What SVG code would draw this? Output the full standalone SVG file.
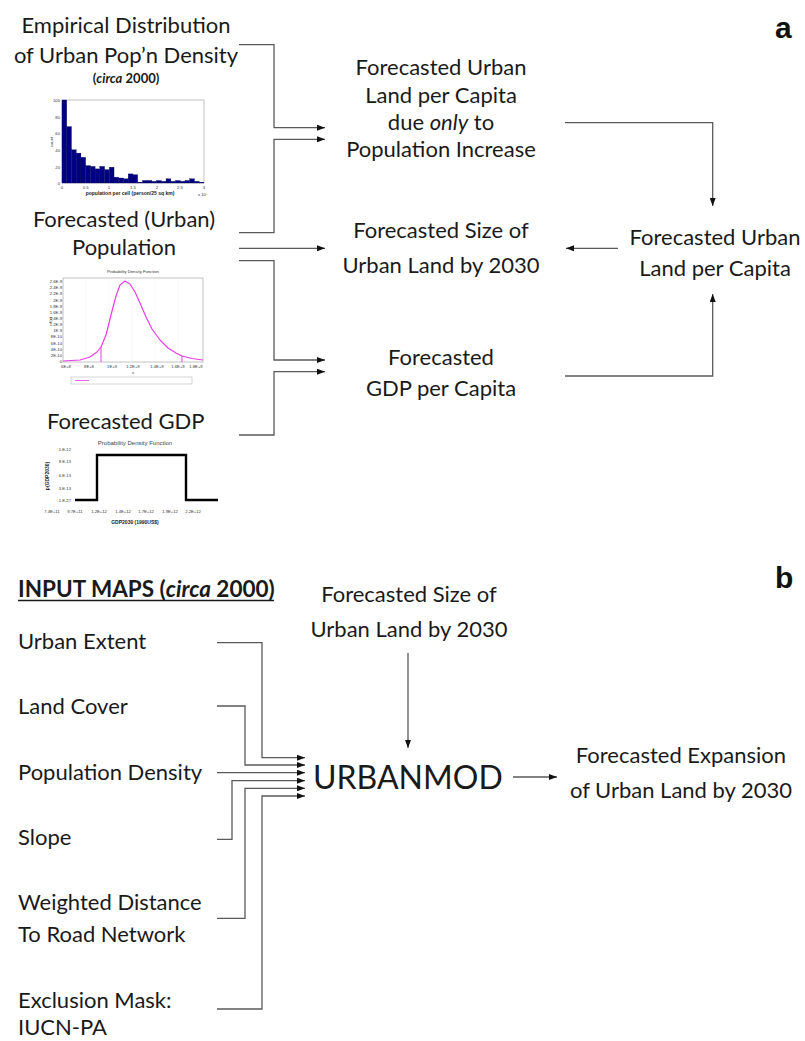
<svg xmlns="http://www.w3.org/2000/svg" width="805" height="1041" viewBox="0 0 805 1041">
<defs>
<marker id="ah" markerUnits="userSpaceOnUse" markerWidth="8" markerHeight="6" refX="8" refY="3" orient="auto">
<path d="M0,0 L8,3 L0,6 z" fill="#111"/>
</marker>
<style>
.t{font-family:Lato,"Liberation Sans",sans-serif;font-size:22px;fill:#1a1a1a}
.c{text-anchor:middle}
.lbl{font-family:"Liberation Sans",Arial,sans-serif;font-weight:bold;font-size:30px;fill:#111}
.ax{font-family:"Liberation Sans",Arial,sans-serif;font-size:4.2px;fill:#333}
.axb{font-family:"Liberation Sans",Arial,sans-serif;font-size:5px;font-weight:bold;fill:#222}
.conn path{fill:none;stroke:#5a5a5a;stroke-width:1.3}
.frame{fill:none;stroke:#999;stroke-width:0.6}
</style>
</defs>
<rect width="805" height="1041" fill="#fff"/>

<text class="lbl" x="775" y="38">a</text>
<text class="lbl" x="775" y="588">b</text>

<g id="empirical">
<text class="t c" x="126" y="33">Empirical Distribution</text>
<text class="t c" x="126" y="63">of Urban Pop’n Density</text>
<text class="c" x="126" y="83" style="font-family:Lato,'Liberation Sans',sans-serif;font-size:13px;font-weight:bold;fill:#1a1a1a">(<tspan font-style="italic">circa</tspan> 2000)</text>
<g id="histogram">
<rect class="frame" x="62" y="100" width="142" height="83"/>
<g fill="#000080" stroke="#000050" stroke-width="0.3">
<rect x="62" y="100" width="4.73" height="83"/>
<rect x="66.73" y="126.6" width="4.73" height="56.4"/>
<rect x="71.46" y="149.8" width="4.73" height="33.2"/>
<rect x="76.19" y="153.1" width="4.73" height="29.9"/>
<rect x="80.92" y="157.3" width="4.73" height="25.7"/>
<rect x="85.65" y="165.6" width="4.73" height="17.4"/>
<rect x="90.38" y="166.4" width="4.73" height="16.6"/>
<rect x="95.11" y="168.9" width="4.73" height="14.1"/>
<rect x="99.84" y="166.4" width="4.73" height="16.6"/>
<rect x="104.57" y="169.7" width="4.73" height="13.3"/>
<rect x="109.3" y="167.2" width="4.73" height="15.8"/>
<rect x="114.03" y="177.2" width="4.73" height="5.8"/>
<rect x="118.76" y="178" width="4.73" height="5"/>
<rect x="123.49" y="178.8" width="4.73" height="4.2"/>
<rect x="128.22" y="173.9" width="4.73" height="9.1"/>
<rect x="132.95" y="174.7" width="4.73" height="8.3"/>
<rect x="137.68" y="182.2" width="4.73" height="0.8"/>
<rect x="142.41" y="180.5" width="4.73" height="2.5"/>
<rect x="147.14" y="180.5" width="4.73" height="2.5"/>
<rect x="151.87" y="181.3" width="4.73" height="1.7"/>
<rect x="156.6" y="180.5" width="4.73" height="2.5"/>
<rect x="161.33" y="181.3" width="4.73" height="1.7"/>
<rect x="166.06" y="178.8" width="4.73" height="4.2"/>
<rect x="170.79" y="181.3" width="4.73" height="1.7"/>
<rect x="175.52" y="180.5" width="4.73" height="2.5"/>
<rect x="180.25" y="181.3" width="4.73" height="1.7"/>
<rect x="184.98" y="180.5" width="4.73" height="2.5"/>
<rect x="189.71" y="178.8" width="4.73" height="4.2"/>
<rect x="194.44" y="181.3" width="4.73" height="1.7"/>
<rect x="199.17" y="182.2" width="4.73" height="0.8"/>
</g>
<g class="ax" text-anchor="end">
<text x="60" y="102">100</text><text x="60" y="118.5">80</text><text x="60" y="135">60</text><text x="60" y="152">40</text><text x="60" y="168.5">20</text><text x="60" y="184.5">0</text>
</g>
<g class="ax" text-anchor="middle">
<text x="62" y="189">0</text><text x="85.7" y="189">0.5</text><text x="109" y="189">1</text><text x="133" y="189">1.5</text><text x="157" y="189">2</text><text x="180" y="189">2.5</text><text x="204" y="189">3</text>
</g>
<text class="ax" x="53" y="142" text-anchor="middle" transform="rotate(-90 53 142)">count</text>
<text class="axb" x="130" y="195" text-anchor="middle">population per cell (person/25 sq km)</text>
<text class="ax" x="198" y="196" font-size="3.5">x 10<tspan font-size="2.5" dy="-1.5">4</tspan></text>
</g>
</g>

<g id="population">
<text class="t c" x="124" y="227">Forecasted (Urban)</text>
<text class="t c" x="124" y="255">Population</text>
<g id="pdf-pop">
<text class="ax" x="133" y="273" text-anchor="middle" font-size="5">Probability Density Function</text>
<rect class="frame" x="63" y="278" width="140" height="84"/>
<g stroke="#e6e6e6" stroke-width="0.4">
<path d="M86,278V362M109,278V362M132,278V362M155,278V362M178,278V362"/>
</g>
<g class="ax" text-anchor="end" font-size="3.6">
<text x="62" y="283">2.6E-9</text><text x="62" y="289.2">2.4E-9</text><text x="62" y="295.3">2.2E-9</text><text x="62" y="301.5">2E-9</text><text x="62" y="307.6">1.8E-9</text><text x="62" y="313.8">1.6E-9</text><text x="62" y="319.9">1.4E-9</text><text x="62" y="326.1">1.2E-9</text><text x="62" y="332.2">1E-9</text><text x="62" y="338.4">8E-10</text><text x="62" y="344.5">6E-10</text><text x="62" y="350.7">4E-10</text><text x="62" y="356.8">2E-10</text><text x="62" y="363">0</text>
</g>
<g class="ax" text-anchor="middle" font-size="3.6">
<text x="66" y="368">6E+8</text><text x="89" y="368">8E+8</text><text x="112" y="368">1E+9</text><text x="133" y="368">1.2E+9</text><text x="157" y="368">1.4E+9</text><text x="178" y="368">1.6E+9</text><text x="196" y="368">1.8E+9</text>
</g>
<text class="ax" x="133" y="373.5" text-anchor="middle">x</text>
<text class="ax" x="52" y="320" text-anchor="middle" transform="rotate(-90 52 320)">f(x)</text>
<polyline fill="none" stroke="#e83ee8" stroke-width="1.2" stroke-linejoin="round" points="63,361 80,360 90,357 97,352 101,347 106,335 111,315 116,296 120,285 125,281 130,284 135,292 140,303 146,317 152,329 160,340 168,348 176,353 182,356 192,358.5 203,360"/>
<path d="M101,347V362M182,356V362" stroke="#e83ee8" stroke-width="1"/>
<rect x="71" y="377" width="121" height="7" fill="none" stroke="#aaa" stroke-width="0.5"/>
<path d="M75,380.5H89" stroke="#e83ee8" stroke-width="0.8"/>
</g>
</g>

<g id="gdp">
<text class="t" x="47" y="429">Forecasted GDP</text>
<g id="pdf-gdp">
<text x="135" y="445" text-anchor="middle" style="font-family:'Liberation Sans',Arial,sans-serif;font-size:6px;fill:#444">Probability Density Function</text>
<g class="ax" text-anchor="end" font-size="4.4">
<text x="71" y="451">1.E-12</text><text x="71" y="463">9.E-13</text><text x="71" y="477">6.E-13</text><text x="71" y="490">3.E-13</text><text x="71" y="502">-1.E-27</text>
</g>
<path d="M75,500H97V455H186V500H218" fill="none" stroke="#000" stroke-width="2.4"/>
<g class="ax" text-anchor="middle" font-size="4.2">
<text x="52" y="513">7.4E+11</text><text x="75" y="513">9.7E+11</text><text x="99" y="513">1.2E+12</text><text x="123" y="513">1.4E+12</text><text x="146" y="513">1.7E+12</text><text x="170" y="513">1.9E+12</text><text x="193" y="513">2.2E+12</text>
</g>
<text class="axb" x="49" y="476" text-anchor="middle" font-size="5.5" transform="rotate(-90 49 476)">p(GDP2030)</text>
<text class="axb" x="135" y="524" text-anchor="middle" font-size="5.5">GDP2030 (1990US$)</text>
</g>
</g>

<g id="land-per-capita-pop">
<text class="t c" x="441" y="75">Forecasted Urban</text>
<text class="t c" x="441" y="103">Land per Capita</text>
<text class="t c" x="441" y="130">due <tspan font-style="italic">only</tspan> to</text>
<text class="t c" x="441" y="157">Population Increase</text>
</g>
<g id="size-urban-a">
<text class="t c" x="441" y="238">Forecasted Size of</text>
<text class="t c" x="441" y="273">Urban Land by 2030</text>
</g>
<g id="gdp-per-capita">
<text class="t c" x="441" y="365">Forecasted</text>
<text class="t c" x="441" y="396">GDP per Capita</text>
</g>
<g id="land-per-capita">
<text class="t c" x="715" y="245">Forecasted Urban</text>
<text class="t c" x="715" y="276">Land per Capita</text>
</g>

<g id="input-maps">
<text x="18" y="597" style="font-family:Lato,'Liberation Sans',sans-serif;font-size:22.5px;font-weight:bold;fill:#1a1a1a">INPUT MAPS (<tspan font-style="italic">circa</tspan> 2000)</text>
<path d="M18,600.5H274" stroke="#1a1a1a" stroke-width="1.5"/>
</g>
<g id="urban-extent"><text class="t" x="18" y="649">Urban Extent</text></g>
<g id="land-cover"><text class="t" x="18" y="714">Land Cover</text></g>
<g id="pop-density"><text class="t" x="18" y="780">Population Density</text></g>
<g id="slope"><text class="t" x="18" y="845">Slope</text></g>
<g id="road"><text class="t" x="18" y="910">Weighted Distance</text><text class="t" x="18" y="942">To Road Network</text></g>
<g id="exclusion"><text class="t" x="18" y="1008">Exclusion Mask:</text><text class="t" x="18" y="1035">IUCN-PA</text></g>
<g id="size-urban-b">
<text class="t c" x="409" y="602">Forecasted Size of</text>
<text class="t c" x="409" y="637">Urban Land by 2030</text>
</g>
<g id="urbanmod"><text x="313" y="789" style="font-family:Lato,'Liberation Sans',sans-serif;font-size:32px;fill:#1a1a1a">URBANMOD</text></g>
<g id="expansion">
<text class="t c" x="681" y="763">Forecasted Expansion</text>
<text class="t c" x="681" y="798">of Urban Land by 2030</text>
</g>

<g id="connectors" class="conn">
<path d="M239,44.7H274V127.7H325" marker-end="url(#ah)"/>
<path d="M239,232.7H274V139.3H325" marker-end="url(#ah)"/>
<path d="M239,248.3H325" marker-end="url(#ah)"/>
<path d="M239,260.7H274V360H325" marker-end="url(#ah)"/>
<path d="M239,435H274V371.7H325" marker-end="url(#ah)"/>
<path d="M565,122.7H712.7V206" marker-end="url(#ah)"/>
<path d="M618,248.3H566" marker-end="url(#ah)"/>
<path d="M565,376H712.7V294" marker-end="url(#ah)"/>
<path d="M217,642.7H262V757.7H305" marker-end="url(#ah)"/>
<path d="M217,706H245V765H305" marker-end="url(#ah)"/>
<path d="M217,772.7H305" marker-end="url(#ah)"/>
<path d="M217,839.3H232V780.7H305" marker-end="url(#ah)"/>
<path d="M217,918.3H245V788.3H305" marker-end="url(#ah)"/>
<path d="M217,1009H262V796H305" marker-end="url(#ah)"/>
<path d="M408,653V748" marker-end="url(#ah)"/>
<path d="M513,777H557" marker-end="url(#ah)"/>
</g>
</svg>
